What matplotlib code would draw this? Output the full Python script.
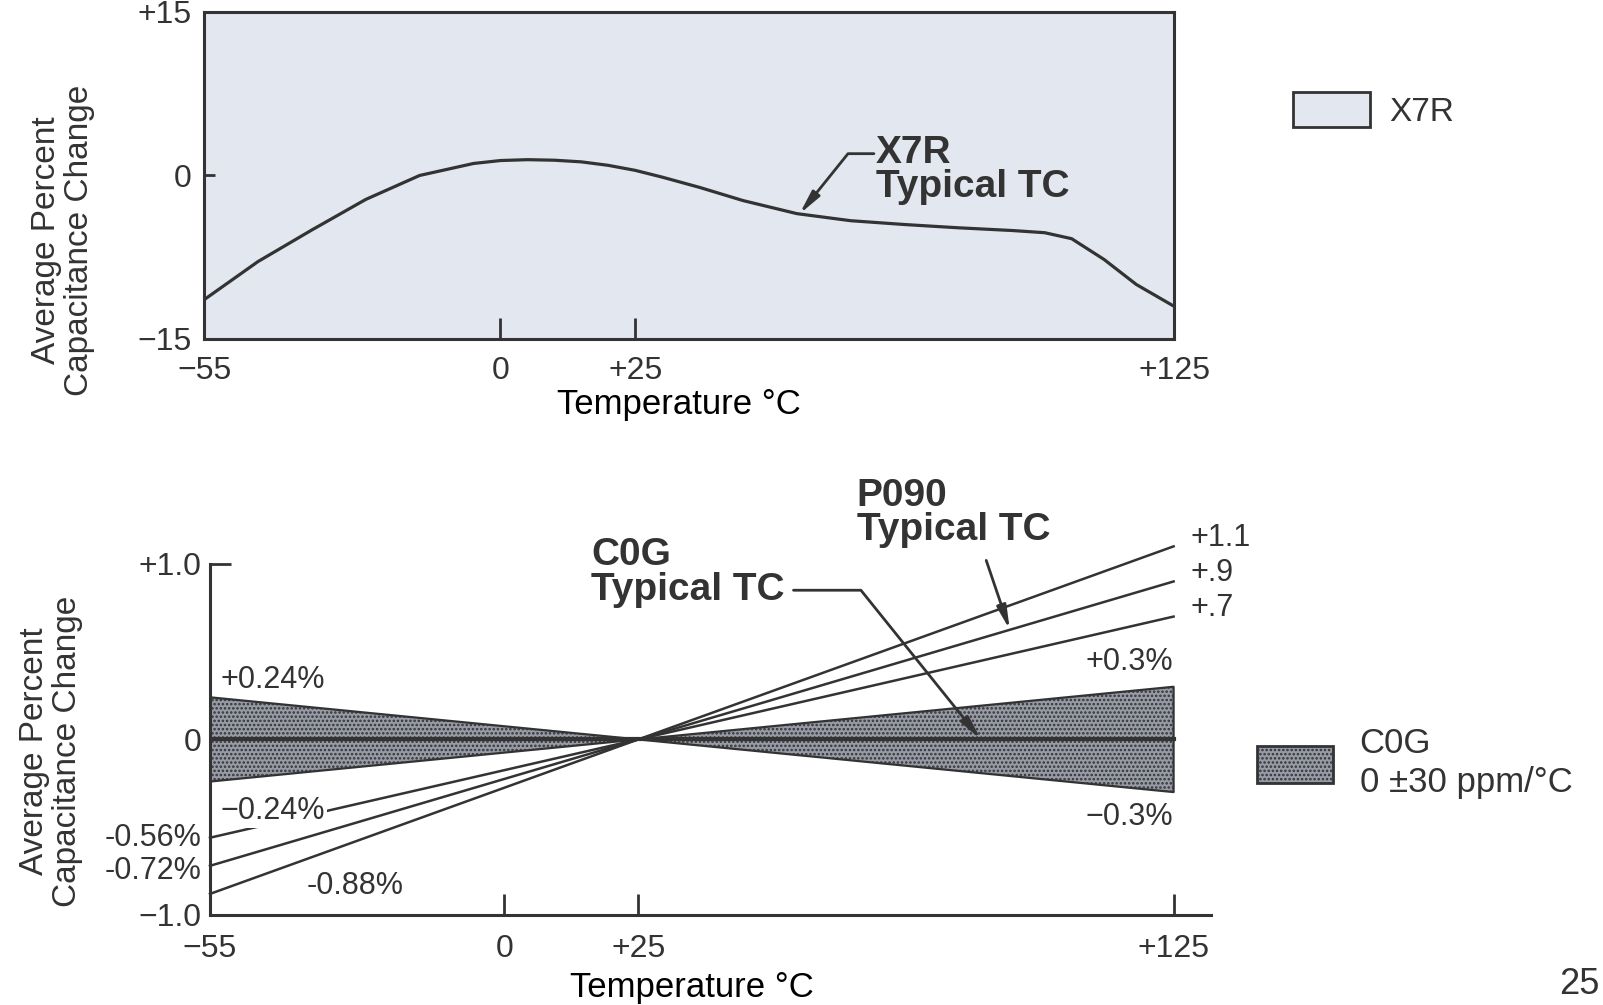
import numpy as np
import matplotlib.pyplot as plt
from matplotlib.patches import Patch

plt.rcParams['font.family'] = ['Liberation Sans', 'DejaVu Sans']
plt.rcParams['text.color'] = '#333333'
plt.rcParams['xtick.color'] = '#333333'
plt.rcParams['ytick.color'] = '#333333'
plt.rcParams['hatch.color'] = '#3f424d'
plt.rcParams['hatch.linewidth'] = 1.2

# X7R typical TC curve
x7r_temp = [-55, -45, -35, -25, -15, -5, 0, 5, 10, 15, 20, 25, 30, 37, 45,
            55, 65, 75, 85, 95, 101, 106, 112, 118, 125]
x7r_change = [-11.4, -7.9, -5.0, -2.2, 0.0, 1.1, 1.37, 1.45, 1.4, 1.25, 0.93,
              0.47, -0.15, -1.1, -2.3, -3.5, -4.15, -4.5, -4.8, -5.05, -5.25,
              -5.8, -7.7, -10.0, -12.0]

# C0G envelope, 0 +/-30 ppm/C about +25 C
c0g_temp = [-55, 25, 125]
c0g_upper = [0.24, 0.0, 0.3]
c0g_lower = [-0.24, 0.0, -0.3]
c0g_typical_temp = [-55, 125]
c0g_typical = [0.0, 0.0]

# P090 typical TC lines, value at -55 and at +125
p090_temp = [-55, 125]
p090_low_end = [-0.88, -0.72, -0.56]
p090_high_end = [1.1, 0.9, 0.7]
p090_end_labels = ['+1.1', '+.9', '+.7']

top_xticks = [-55, 0, 25, 125]
top_xticklabels = ['\u221255', '0', '+25', '+125']
top_yticks = [-15, 0, 15]
top_yticklabels = ['\u221215', '0', '+15']
bot_yticks = [-1.0, 0, 1.0]
bot_yticklabels = ['\u22121.0', '0', '+1.0']

dark = '#333333'
x7r_fill = '#e2e7f0'
band_fill = '#979ba6'
ylab = 'Average Percent\nCapacitance Change'
tick_fs = 23
val_fs = 22
bold_fs = 28


def angle_to(ax, a, b):
    p = ax.transData.transform([a, b])
    d = p[0] - p[1]
    return np.degrees(np.arctan2(d[1], d[0]))


fig = plt.figure(figsize=(16.03, 10.05), dpi=100)
fig.patch.set_facecolor('white')

# ---------------- top: X7R ----------------
ax1 = fig.add_axes([0.1273, 0.6627, 0.6051, 0.3254])
ax1.set_facecolor(x7r_fill)
ax1.plot(x7r_temp, x7r_change, color=dark, lw=2.3)
ax1.set_xlim(-55, 125)
ax1.set_ylim(-15, 15)
for s in ax1.spines.values():
    s.set_linewidth(2.2)
    s.set_color(dark)
ax1.xaxis.remove_overlapping_locs = False
ax1.yaxis.remove_overlapping_locs = False
ax1.set_xticks(top_xticks, top_xticklabels)
ax1.set_yticks(top_yticks, top_yticklabels)
ax1.set_xticks([0, 25], minor=True)
ax1.set_yticks([0], minor=True)
ax1.tick_params(which='major', length=0, labelsize=tick_fs)
ax1.tick_params(axis='x', which='major', pad=12)
ax1.tick_params(axis='y', which='major', pad=9)
ax1.tick_params(axis='x', which='minor', direction='in', length=15, width=2)
ax1.tick_params(axis='y', which='minor', direction='in', length=8, width=2)
ax1.set_xlabel('Temperature \u00b0C', fontsize=25)
ax1.xaxis.set_label_coords(0.49, -0.15)

x7r_target = (55.5, np.interp(55.5, x7r_temp, x7r_change))
x7r_corner = (64.5, 2.0)
ax1.text(69.6, 0.5, 'X7R\nTypical TC', fontsize=bold_fs, fontweight='bold',
         ha='left', va='center', linespacing=0.95)
ax1.annotate('', xy=x7r_target, xytext=(69.3, 2.0),
             arrowprops=dict(arrowstyle='-|>,head_length=1.0,head_width=0.2',
                             connectionstyle='angle,angleA=0,angleB=%.1f'
                             % angle_to(ax1, x7r_corner, x7r_target),
                             color=dark, lw=2, shrinkA=0, shrinkB=0,
                             mutation_scale=14))

fig.text(0.0393, 0.761, ylab, rotation=90, ha='center', va='center',
         fontsize=24, linespacing=1.1)

# ---------------- bottom: C0G / P090 ----------------
ax2 = fig.add_axes([0.1310, 0.0896, 0.6245, 0.3493])
ax2.set_xlim(-55, 132)
ax2.set_ylim(-1.0, 1.0)
ax2.fill_between(c0g_temp, c0g_lower, c0g_upper, facecolor=band_fill,
                 edgecolor=dark, hatch='....', lw=1.6, zorder=2)
ax2.plot(c0g_typical_temp, c0g_typical, color=dark, lw=3, zorder=3)
for lo, hi, lab in zip(p090_low_end, p090_high_end, p090_end_labels):
    ax2.plot(p090_temp, [lo, hi], color=dark, lw=1.8, clip_on=False, zorder=2)
    ax2.annotate(lab, xy=(p090_temp[1], hi), xytext=(12, 6),
                 textcoords='offset points', ha='left', va='center',
                 fontsize=val_fs, annotation_clip=False)

for side in ['top', 'right']:
    ax2.spines[side].set_visible(False)
for side in ['left', 'bottom']:
    ax2.spines[side].set_linewidth(2.2)
    ax2.spines[side].set_color(dark)
ax2.xaxis.remove_overlapping_locs = False
ax2.yaxis.remove_overlapping_locs = False
ax2.set_xticks(top_xticks, top_xticklabels)
ax2.set_yticks(bot_yticks, bot_yticklabels)
ax2.set_xticks([0, 25, 125], minor=True)
ax2.set_yticks([1.0], minor=True)
ax2.tick_params(which='major', length=0, labelsize=tick_fs)
ax2.tick_params(axis='x', which='major', pad=14)
ax2.tick_params(axis='y', which='major', pad=6)
ax2.tick_params(which='minor', direction='in', length=15, width=2)
ax2.set_xlabel('Temperature \u00b0C', fontsize=25)
ax2.xaxis.set_label_coords(0.4815, -0.16)

# band and line labels
ax2.text(-53, 0.34, '+0.24%', fontsize=val_fs, ha='left', va='center')
ax2.text(-53, -0.41, '\u22120.24%', fontsize=val_fs, ha='left', va='center',
         zorder=4, bbox=dict(facecolor='white', edgecolor='none', pad=1))
ax2.text(125, 0.44, '+0.3%', fontsize=val_fs, ha='right', va='center')
ax2.text(125, -0.44, '\u22120.3%', fontsize=val_fs, ha='right', va='center')
ax2.annotate('-0.56%', xy=(-55, p090_low_end[2]), xytext=(-6, 0),
             textcoords='offset points', ha='right', va='center',
             fontsize=val_fs)
ax2.annotate('-0.72%', xy=(-55, p090_low_end[1]), xytext=(-6, -4),
             textcoords='offset points', ha='right', va='center',
             fontsize=val_fs)
ax2.text(-37, -0.835, '-0.88%', fontsize=val_fs, ha='left', va='center')

# C0G typical TC callout
c0g_target = (89, 0.0)
c0g_corner = (66.6, 0.85)
ax2.text(16.2, 0.95, 'C0G\nTypical TC', fontsize=bold_fs, fontweight='bold',
         ha='left', va='center', linespacing=0.95)
ax2.annotate('', xy=c0g_target, xytext=(54.0, 0.85),
             arrowprops=dict(arrowstyle='-|>,head_length=1.0,head_width=0.2',
                             connectionstyle='angle,angleA=0,angleB=%.1f'
                             % angle_to(ax2, c0g_corner, c0g_target),
                             color=dark, lw=2, shrinkA=0, shrinkB=0,
                             mutation_scale=14), zorder=5)

# P090 typical TC callout
p090_x = 94.4
p090_y = np.interp(p090_x, p090_temp, [p090_low_end[1], p090_high_end[1]])
ax2.text(65.8, 1.29, 'P090\nTypical TC', fontsize=bold_fs, fontweight='bold',
         ha='left', va='center', linespacing=0.95)
ax2.annotate('', xy=(p090_x, p090_y), xytext=(90.0, 1.02),
             arrowprops=dict(arrowstyle='-|>,head_length=1.0,head_width=0.2',
                             color=dark, lw=2, shrinkA=0, shrinkB=0,
                             mutation_scale=14), annotation_clip=False)

fig.text(0.0318, 0.2527, ylab, rotation=90, ha='center', va='center',
         fontsize=24, linespacing=1.1)

# legends
x7r_patch = Patch(facecolor=x7r_fill, edgecolor=dark, lw=2)
c0g_patch = Patch(facecolor=band_fill, edgecolor=dark, hatch='....', lw=2)
fig.legend(handles=[x7r_patch], labels=['X7R'], loc='center left',
           bbox_to_anchor=(0.8066, 0.8905), frameon=False, fontsize=24,
           handlelength=2.3, handleheight=1.23, handletextpad=0.6,
           borderpad=0, borderaxespad=0)
fig.legend(handles=[c0g_patch], labels=['C0G\n0 \u00b130 ppm/\u00b0C'],
           loc='center left', bbox_to_anchor=(0.7842, 0.2408), frameon=False,
           fontsize=25, handlelength=2.2, handleheight=1.25,
           handletextpad=0.75, borderpad=0, borderaxespad=0)

fig.text(0.998, 0.003, '25', fontsize=26, ha='right', va='bottom')

fig.savefig('out.png', dpi=100)
